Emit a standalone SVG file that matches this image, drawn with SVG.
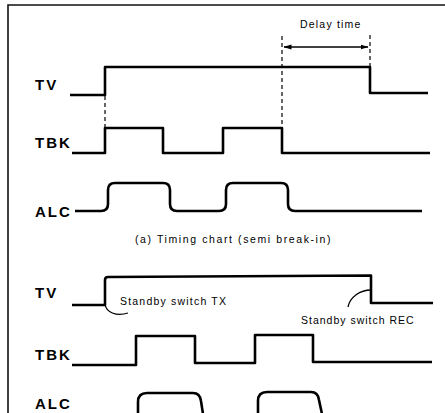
<svg xmlns="http://www.w3.org/2000/svg" width="445" height="413" viewBox="0 0 445 413">
<style>
.bg{fill:#fff}
.frame{fill:none;stroke:#111;stroke-width:1.6}
.wave{fill:none;stroke:#000;stroke-width:2.6;stroke-linejoin:round;stroke-linecap:butt}
.dash{fill:none;stroke:#000;stroke-width:1.2;stroke-dasharray:4 3}
.thin{fill:none;stroke:#000;stroke-width:1.3}
.lbl{font-family:"Liberation Sans",Arial,sans-serif;font-weight:bold;font-size:15px;letter-spacing:2px;fill:#000}
.note{font-family:"Liberation Sans",Arial,sans-serif;font-size:10.5px;fill:#000}
</style>
<defs>
<marker id="ah" viewBox="0 0 8 6" refX="7.5" refY="3" markerWidth="8" markerHeight="6" orient="auto-start-reverse" markerUnits="userSpaceOnUse">
<path d="M0,0.5 L8,3 L0,5.5 Z" fill="#000"/>
</marker>
</defs>
<rect class="bg" x="0" y="0" width="445" height="413"/>
<path class="frame" d="M8,413 V5 H445"/>

<g id="chart-a">
<g id="a-tv">
<text class="lbl" x="35" y="90">TV</text>
<path class="wave" d="M70,95 H105 V67 H370 V93 H428"/>
</g>
<g id="a-tbk">
<text class="lbl" x="35" y="148">TBK</text>
<path class="wave" d="M72,153 H105 V128 H163 V153 H223 V128 H282 V153 H430"/>
</g>
<g id="a-alc">
<text class="lbl" x="35" y="217">ALC</text>
<path class="wave" d="M75,211 H101 Q108,211 108,204 V190 Q108,183 115,183 H163 Q170,183 170,190 V204 Q170,211 177,211 H219 Q226,211 226,204 V190 Q226,183 233,183 H281 Q288,183 288,190 V204 Q288,211 295,211 H422"/>
</g>
<g id="a-delay">
<path class="dash" d="M105,96 V128"/>
<path class="dash" d="M282,36 V128"/>
<path class="dash" d="M370,35 V67"/>
<path class="thin" d="M284,47 H368" marker-start="url(#ah)" marker-end="url(#ah)"/>
<text class="note" x="300" y="28" letter-spacing="1.2">Delay time</text>
</g>
<text class="note" x="135" y="243" letter-spacing="1.6">(a) Timing chart (semi break-in)</text>
</g>

<g id="chart-b">
<g id="b-tv">
<text class="lbl" x="35" y="298">TV</text>
<path class="wave" d="M72,305 H105 V280 Q105,277 108,277 L371,275.5 V303 H433"/>
<path class="thin" d="M105,304 C106,312 116,317 128,313"/>
<path class="thin" d="M371,290 C360,290 350,297 348,307"/>
<text class="note" x="120" y="305" letter-spacing="1.2">Standby switch TX</text>
<text class="note" x="301" y="324" letter-spacing="1">Standby switch REC</text>
</g>
<g id="b-tbk">
<text class="lbl" x="35" y="360">TBK</text>
<path class="wave" d="M72,365 H136 V336 H195 V363 H255 V335 H313 V362 H432"/>
</g>
<g id="b-alc">
<text class="lbl" x="35" y="409">ALC</text>
<path class="wave" d="M138,414 V402 Q138,393 147,393 H193 Q200,393 201,401 L203,414"/>
<path class="wave" d="M258,414 V401 Q258,392 267,392 H311 Q318,392 319,400 L322,414"/>
</g>
</g>
</svg>
